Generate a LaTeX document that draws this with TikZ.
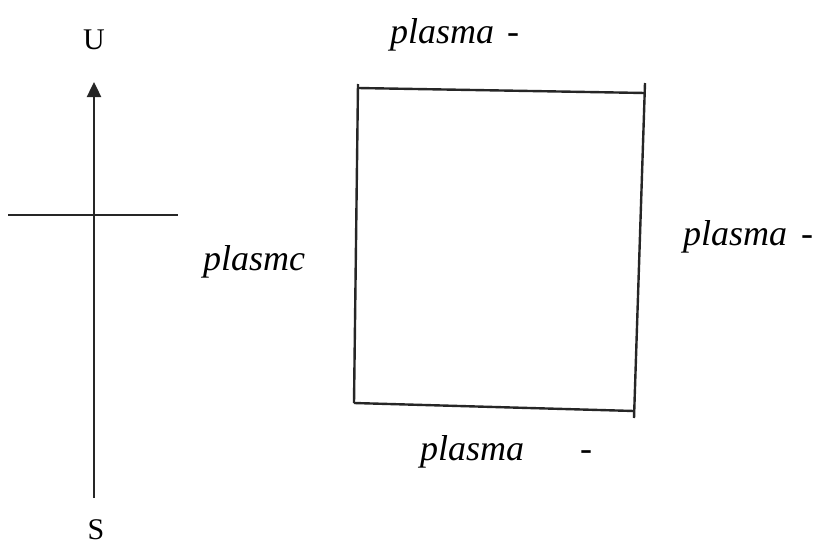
\documentclass[tikz,border=0pt]{standalone}
\usepackage{fontspec}
\setmainfont{Liberation Serif}
\usetikzlibrary{arrows.meta}
\begin{document}
\begin{tikzpicture}[x=1pt,y=-1pt,
  line/.style={line width=2.4pt,black!85},
  hand/.style={font=\fontsize{36}{40}\selectfont\itshape, inner sep=0pt, anchor=base west},
  axlabel/.style={font=\fontsize{30}{32}\selectfont, inner sep=0pt}]
\useasboundingbox (0,0) rectangle (813,546);
% axis
\node[axlabel] (U) at (94,40) {U};
\node[axlabel] (S) at (96,530) {S};
\coordinate (axtop) at (94,82);
\coordinate (axbot) at (94,498);
\coordinate (hl) at (8,215);
\coordinate (hr) at (178,215);
\draw[line,-{Triangle[length=15pt,width=14pt]}] (axbot) -- (axtop);
\draw[line] (hl) -- (hr);
% box
\coordinate (tl) at (358,88);
\coordinate (tr) at (645,93);
\coordinate (bl) at (354,403);
\coordinate (br) at (634,411);
\coordinate (ltop) at (358,84);
\coordinate (rtop) at (645,83);
\coordinate (rbot) at (634,418);
\draw[line] (tl) -- (tr);
\draw[line] (ltop) -- (bl);
\draw[line] (rtop) -- (rbot);
\draw[line] (bl) -- (br);
% labels
\node[hand] (ptop) at (390,43) {plasma\hspace{13pt}-};
\node[hand] (pleft) at (203,270) {plasmc};
\node[hand] (pright) at (683,245) {plasma\hspace{14pt}-};
\node[hand] (pbot) at (420,460) {plasma\hspace{56pt}-};
\end{tikzpicture}
\end{document}
